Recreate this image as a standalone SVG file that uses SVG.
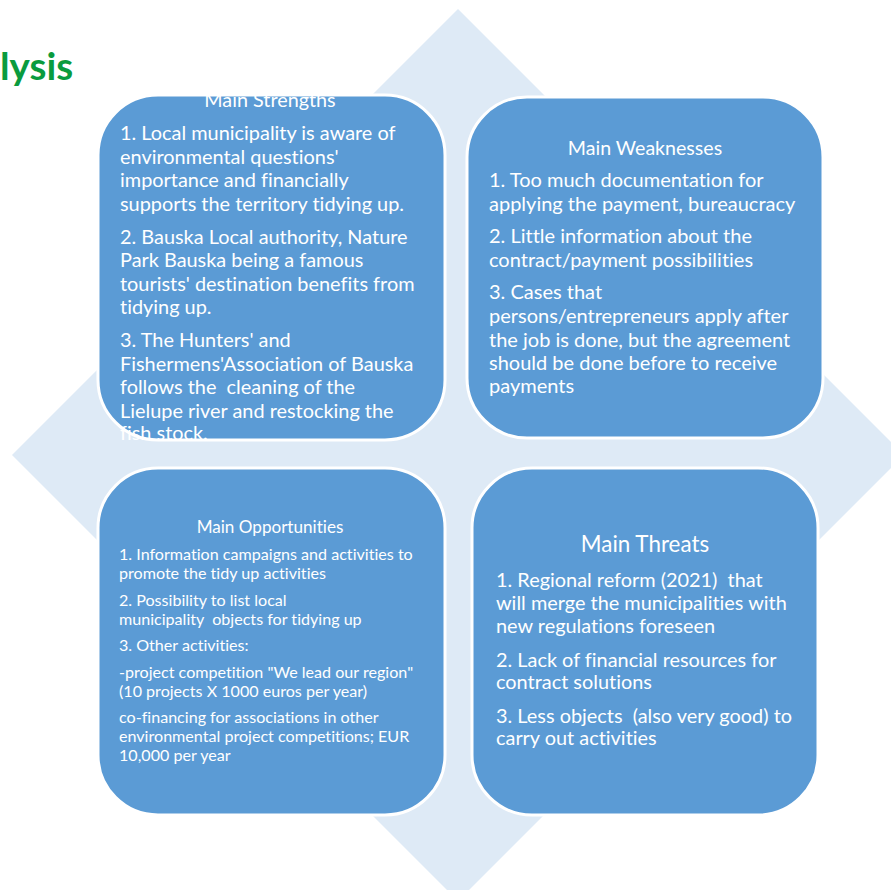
<svg xmlns="http://www.w3.org/2000/svg" width="891" height="890" viewBox="0 0 891 890">
<style>
.box{fill:#5B9BD5;stroke:#FFFFFF;stroke-width:3}
.t{font-family:Lato,"Open Sans","Liberation Sans",sans-serif;fill:#FFFFFF;font-variant-ligatures:none}
.ttl{text-anchor:middle}
</style>
<rect width="891" height="890" fill="#FFFFFF"/>
<polygon points="458,9 904,455 458,901 12,455" fill="#DEEAF6"/>
<text x="0" y="80" style="font-family:Lato,'Liberation Sans',sans-serif;font-weight:bold;font-size:38.5px;fill:#0A9B3E">lysis</text>
<g id="connectors"></g>
<g id="strengths">
<rect class="box" x="98" y="95" width="347" height="345" rx="60"/>
<text class="t ttl" x="270" y="107" font-size="19.8">Main Strengths</text>
<text class="t" font-size="19.9">
<tspan x="120" y="140">1. Local municipality is aware of</tspan>
<tspan x="120" y="163.5">environmental questions'</tspan>
<tspan x="120" y="187">importance and financially</tspan>
<tspan x="120" y="210.5">supports the territory tidying up.</tspan>
<tspan x="120" y="243.5">2. Bauska Local authority, Nature</tspan>
<tspan x="120" y="267">Park Bauska being a famous</tspan>
<tspan x="120" y="290.5">tourists' destination benefits from</tspan>
<tspan x="120" y="314">tidying up.</tspan>
<tspan x="120" y="347">3. The Hunters' and</tspan>
<tspan x="120" y="370.5">Fishermens'Association of Bauska</tspan>
<tspan x="120" y="394" xml:space="preserve">follows the  cleaning of the</tspan>
<tspan x="120" y="417.5">Lielupe river and restocking the</tspan>
<tspan x="120" y="440">fish stock.</tspan>
</text>
</g>
<g id="weaknesses">
<rect class="box" x="467" y="97" width="356" height="341" rx="60"/>
<text class="t ttl" x="645" y="155" font-size="19.6">Main Weaknesses</text>
<text class="t" font-size="20">
<tspan x="489" y="187">1. Too much documentation for</tspan>
<tspan x="489" y="211">applying the payment, bureaucracy</tspan>
<tspan x="489" y="243">2. Little information about the</tspan>
<tspan x="489" y="267">contract/payment possibilities</tspan>
<tspan x="489" y="299">3. Cases that</tspan>
<tspan x="489" y="323">persons/entrepreneurs apply after</tspan>
<tspan x="489" y="347">the job is done, but the agreement</tspan>
<tspan x="489" y="370">should be done before to receive</tspan>
<tspan x="489" y="393">payments</tspan>
</text>
</g>
<g id="opportunities">
<rect class="box" x="98" y="468" width="347" height="347" rx="60"/>
<text class="t ttl" x="270" y="533" font-size="17.1">Main Opportunities</text>
<text class="t" font-size="16.1">
<tspan x="119" y="560">1. Information campaigns and activities to</tspan>
<tspan x="119" y="579">promote the tidy up activities</tspan>
<tspan x="119" y="606">2. Possibility to list local</tspan>
<tspan x="119" y="625" xml:space="preserve">municipality  objects for tidying up</tspan>
<tspan x="119" y="651">3. Other activities:</tspan>
<tspan x="119" y="678">-project competition "We lead our region"</tspan>
<tspan x="119" y="697">(10 projects X 1000 euros per year)</tspan>
<tspan x="119" y="723">co-financing for associations in other</tspan>
<tspan x="119" y="742">environmental project competitions; EUR</tspan>
<tspan x="119" y="761">10,000 per year</tspan>
</text>
</g>
<g id="threats">
<rect class="box" x="472" y="468" width="346" height="347" rx="60"/>
<text class="t ttl" x="645" y="552" font-size="22.4">Main Threats</text>
<text class="t" font-size="19.9">
<tspan x="496" y="587" xml:space="preserve">1. Regional reform (2021)  that</tspan>
<tspan x="496" y="610">will merge the municipalities with</tspan>
<tspan x="496" y="633">new regulations foreseen</tspan>
<tspan x="496" y="667">2. Lack of financial resources for</tspan>
<tspan x="496" y="689">contract solutions</tspan>
<tspan x="496" y="723" xml:space="preserve">3. Less objects  (also very good) to</tspan>
<tspan x="496" y="745">carry out activities</tspan>
</text>
</g>
</svg>
